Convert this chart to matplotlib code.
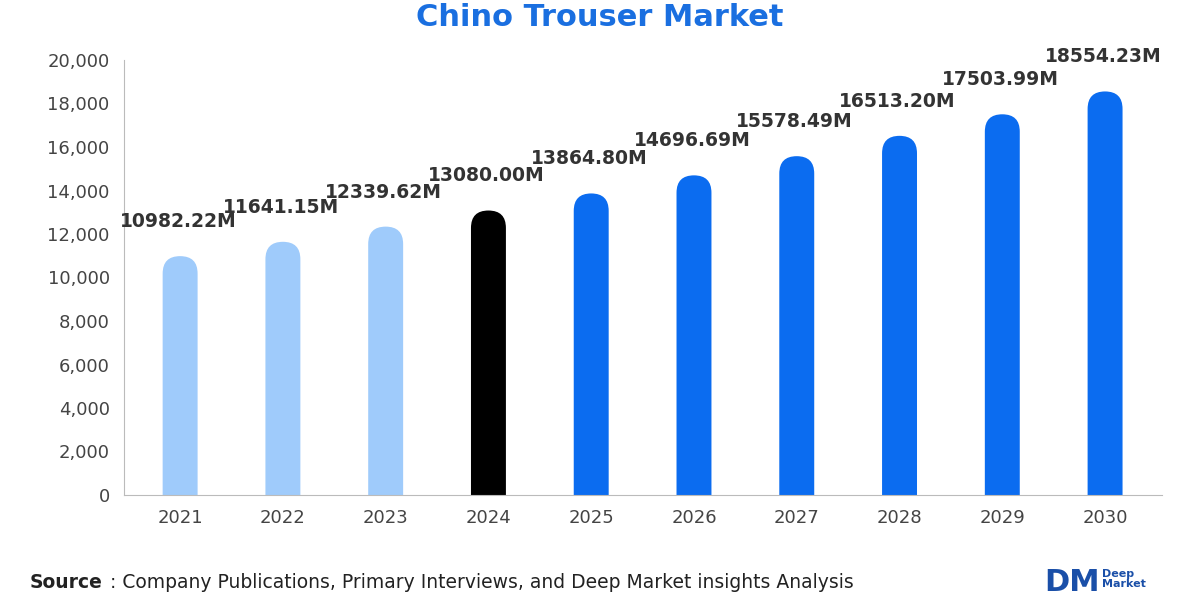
import matplotlib.pyplot as plt
from matplotlib.patches import FancyBboxPatch

years = ["2021", "2022", "2023", "2024", "2025", "2026", "2027", "2028", "2029", "2030"]
values = [10982.22, 11641.15, 12339.62, 13080.00, 13864.80, 14696.69, 15578.49, 16513.20, 17503.99, 18554.23]
colors = ["#9fcbfb"] * 3 + ["#000000"] + ["#0b6cf0"] * 6

fig = plt.figure(figsize=(12, 6), dpi=100)
ax = fig.add_axes([0.103, 0.175, 0.865, 0.725])

w = 0.34
r_x = w / 2
r_y = 800
for i, (v, c) in enumerate(zip(values, colors)):
    p = FancyBboxPatch((i - w / 2, -2000), w, v + 2000,
                       boxstyle=f"round,pad=0,rounding_size={r_x}",
                       mutation_aspect=r_y / r_x, fc=c, ec="none")
    ax.add_patch(p)
    ax.text(i - 0.02, v + 1150, f"{v:.2f}M", ha="center", va="bottom",
            fontsize=13.5, fontweight="bold", color="#333333")

ax.set_xlim(-0.55, 9.55)
ax.set_ylim(0, 20000)
ax.set_xticks(range(len(years)))
ax.set_xticklabels(years)
ax.set_yticks(range(0, 20001, 2000))
ax.set_yticklabels([f"{t:,}" for t in range(0, 20001, 2000)])
ax.tick_params(labelsize=13, colors="#444444", length=0, pad=10)
for s in ["top", "right"]:
    ax.spines[s].set_visible(False)
for s in ["left", "bottom"]:
    ax.spines[s].set_color("#bbbbbb")

fig.text(0.5, 0.97, "Chino Trouser Market", ha="center", va="center",
         fontsize=22, fontweight="bold", color="#1a6fe0")
fig.text(0.025, 0.02, "Source", fontsize=13.5, fontweight="bold", color="#222222")
fig.text(0.092, 0.02, ": Company Publications, Primary Interviews, and Deep Market insights Analysis",
         fontsize=13.5, color="#222222")
fig.text(0.87, 0.015, "DM", fontsize=22, fontweight="bold", color="#1a4fa8")
fig.text(0.918, 0.035, "Deep\nMarket", fontsize=8, fontweight="bold", color="#1a4fa8",
         va="center", linespacing=0.9)

fig.savefig("out.png")
